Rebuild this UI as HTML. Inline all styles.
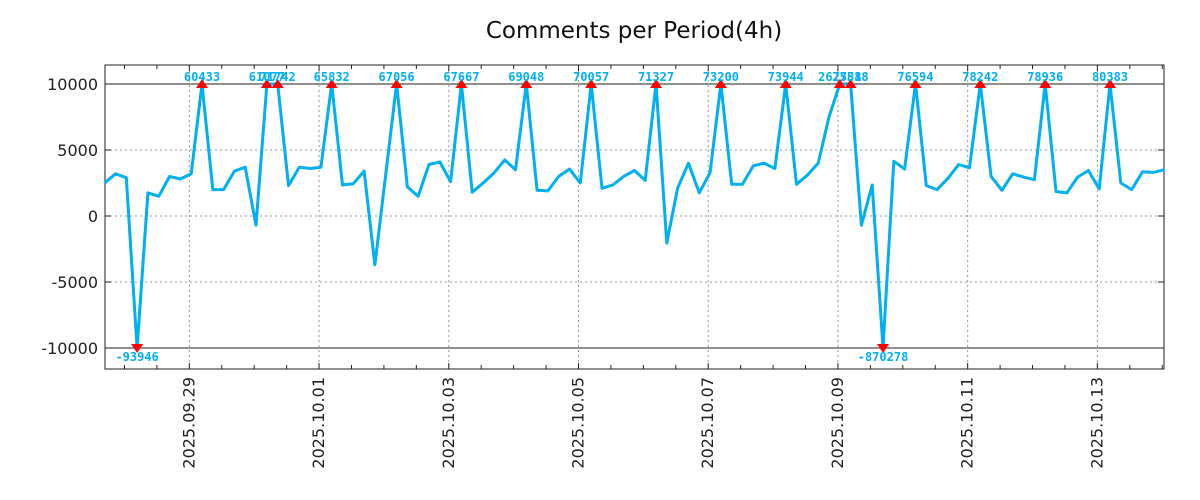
<!DOCTYPE html>
<html><head><meta charset="utf-8"><style>
html,body{margin:0;padding:0;background:#fff;}
svg{display:block;}
</style></head><body>
<svg id="chart" width="1200" height="500" xmlns="http://www.w3.org/2000/svg">
<rect width="1200" height="500" fill="#fff"/>
<text x="634" y="38" text-anchor="middle" font-family="DejaVu Sans, Liberation Sans, sans-serif" font-size="23" fill="#111">Comments per Period(4h)</text>
<g id="grid"></g><g id="axes"></g><g id="series"></g><g id="marks"></g>
</svg>
<script>
const values = [2500,3200,2900,-93946,1750,1500,3000,2800,3200,60433,2000,2000,3400,3700,-700,61077,71742,2300,3700,3600,3700,65832,2350,2450,3400,-3700,3200,67056,2200,1500,3900,4100,2600,67667,1800,2500,3250,4250,3500,69048,1950,1900,3000,3550,2500,70057,2100,2350,3000,3450,2700,71327,-2050,2100,4000,1750,3300,73200,2400,2400,3800,4000,3600,73944,2400,3100,4000,7500,262788,75518,-700,2350,-870278,4150,3550,76594,2300,2000,2850,3900,3650,78242,3000,1950,3200,2950,2750,78936,1850,1750,2950,3450,2050,80383,2500,2000,3350,3300,3500];
const yTicks = [10000,5000,0,-5000,-10000];
const dateLabels = ["2025.09.29","2025.10.01","2025.10.03","2025.10.05","2025.10.07","2025.10.09","2025.10.11","2025.10.13"];
const firstDateIndex = 7.83;
const yClip = 10000;

const NS="http://www.w3.org/2000/svg";
const L=105,R=1164,T=65,B=369;
const xs=i=>104.7+i*10.81;
const ys=v=>216-v/10000*132;
function el(tag,attrs,parent){const e=document.createElementNS(NS,tag);for(const k in attrs)e.setAttribute(k,attrs[k]);parent.appendChild(e);return e;}
const grid=document.getElementById('grid'),axes=document.getElementById('axes'),series=document.getElementById('series'),marks=document.getElementById('marks');
const font="DejaVu Sans, Liberation Sans, sans-serif";

yTicks.forEach(v=>{
  const y=ys(v);
  const solid=Math.abs(v)===yClip;
  const g=el('line',{x1:L,x2:R,y1:y,y2:y,stroke:solid?'#222':'#999','stroke-width':1,'stroke-dasharray':solid?'':'2,3'},grid);
  
  
  el('line',{x1:L,x2:L+6,y1:y,y2:y,stroke:'#222'},axes);
  el('line',{x1:R-6,x2:R,y1:y,y2:y,stroke:'#222'},axes);
  const t=el('text',{x:98,y:y+6,'text-anchor':'end','font-family':font,'font-size':16,fill:'#222'},axes);
  t.textContent=v;
  
  
});
for(let k=-2;k<40;k++){
  const i=firstDateIndex+k*3;
  const x=xs(i);
  if(x<L||x>R)continue;
  const major=k>=0&&k%4===0;
  el('line',{x1:x,x2:x,y1:B,y2:B-(major?6:4),stroke:'#222'},axes);
  el('line',{x1:x,x2:x,y1:T,y2:T+(major?6:4),stroke:'#222'},axes);
  if(major){
    const gl=el('line',{x1:x,x2:x,y1:T,y2:B,stroke:'#999','stroke-dasharray':'2,3'},grid);
    
    
    const lab=dateLabels[k/4];
    if(lab){
      const t=el('text',{x:0,y:0,'text-anchor':'end','font-family':font,'font-size':16,fill:'#222',transform:`translate(${x+5},377) rotate(-90)`},axes);
      t.textContent=lab;
      
      
    }
  }
}
const frame=el('rect',{x:L,y:T,width:R-L,height:B-T,fill:'none',stroke:'#222','stroke-width':1},axes);



const pts=values.map((v,i)=>xs(i).toFixed(1)+','+ys(Math.max(-yClip,Math.min(yClip,v))).toFixed(1)).join(' ');
const pl=el('polyline',{points:pts,fill:'none',stroke:'#00b0f0','stroke-width':3,'stroke-linejoin':'round'},series);



values.forEach((v,i)=>{
  if(Math.abs(v)<yClip)return;
  const x=xs(i),up=v>0,y=ys(up?yClip:-yClip);
  const p=el('polygon',{points:up?`${x-6},${y+4} ${x+6},${y+4} ${x},${y-5}`:`${x-6},${y-4} ${x+6},${y-4} ${x},${y+5}`,fill:'#f00'},marks);
  
  
  const t=el('text',{x:x,y:up?y-3:y+13,'text-anchor':'middle','font-family':'DejaVu Sans Mono, Liberation Mono, monospace','font-size':12,'font-weight':'bold',fill:'#00b0f0'},marks);
  t.textContent=v;
  
  
});
</script>
</body></html>
